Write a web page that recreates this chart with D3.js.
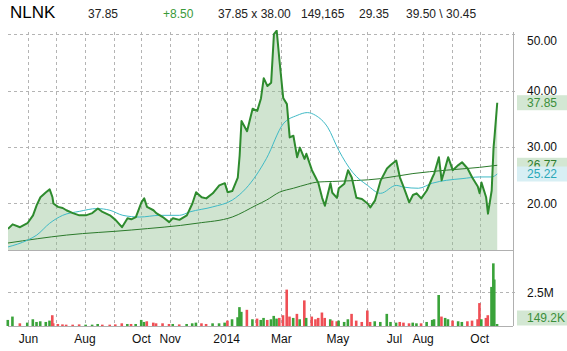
<!DOCTYPE html>
<html lang="en">
<head>
    <meta charset="UTF-8">
    <title>NLNK</title>
    <script src="https://cdn.jsdelivr.net/npm/d3@7/dist/d3.min.js"></script>
    <style>
        body { margin: 0; background: #fff; }
        text { font-family: "Liberation Sans", Arial, sans-serif; }
    </style>
</head>
<body>
<script>
    // price (close)
    var dates = ["2013-05-10","2013-05-15","2013-05-23","2013-05-31","2013-06-06","2013-06-10","2013-06-14","2013-06-20","2013-06-24","2013-06-27",
        "2013-06-28","2013-07-03","2013-07-08","2013-07-12","2013-07-19","2013-07-26","2013-08-02","2013-08-09","2013-08-15","2013-08-20",
        "2013-08-28","2013-09-03","2013-09-10","2013-09-16","2013-09-20","2013-09-25","2013-10-01","2013-10-04","2013-10-07","2013-10-14",
        "2013-10-17","2013-10-24","2013-10-31","2013-11-04","2013-11-11","2013-11-19","2013-11-25","2013-11-29","2013-12-05","2013-12-10",
        "2013-12-17","2013-12-24","2013-12-30","2014-01-02","2014-01-07","2014-01-13","2014-01-15","2014-01-17","2014-01-23","2014-01-29",
        "2014-02-03","2014-02-07","2014-02-10","2014-02-14","2014-02-18","2014-02-21","2014-02-24","2014-02-27","2014-03-03","2014-03-07",
        "2014-03-10","2014-03-14","2014-03-18","2014-03-21","2014-03-26","2014-03-28","2014-04-03","2014-04-07","2014-04-10","2014-04-14",
        "2014-04-17","2014-04-23","2014-04-25","2014-04-30","2014-05-02","2014-05-08","2014-05-12","2014-05-16","2014-05-21","2014-05-27",
        "2014-06-02","2014-06-05","2014-06-10","2014-06-16","2014-06-23","2014-06-27","2014-07-03","2014-07-07","2014-07-11","2014-07-17",
        "2014-07-21","2014-07-25","2014-07-30","2014-08-05","2014-08-11","2014-08-13","2014-08-18","2014-08-21","2014-08-25","2014-08-28",
        "2014-09-02","2014-09-08","2014-09-12","2014-09-18","2014-09-23","2014-09-29","2014-10-01","2014-10-03","2014-10-08","2014-10-10",
        "2014-10-14","2014-10-16","2014-10-17","2014-10-20"];
    var close = [15.5,16.3,15.8,16.5,17.9,19.7,21.1,22.0,22.5,21.1,
        20.0,19.4,19.2,18.8,18.3,17.9,17.9,18.3,19.1,18.5,
        17.9,17.1,15.8,17.4,17.2,17.6,20.2,20.9,19.4,18.8,
        18.3,17.6,16.7,17.4,17.1,17.9,20.0,22.0,21.1,20.9,
        21.8,23.2,23.6,22.0,22.2,24.6,28.5,34.6,32.8,36.8,
        36.4,38.6,42.2,40.8,41.4,50.0,50.6,45.3,38.7,37.6,
        31.7,32.0,28.2,29.9,27.9,28.8,25.9,24.6,23.6,21.0,
        19.6,23.6,21.9,21.0,22.7,23.5,25.9,24.6,21.0,20.8,
        20.0,19.3,20.5,24.0,26.2,26.8,27.6,24.6,22.9,20.2,
        21.5,21.8,20.9,22.3,24.6,25.3,28.2,24.1,26.4,28.2,
        25.9,26.8,27.3,26.2,24.6,23.0,21.8,23.7,21.1,18.2,
        22.3,29.9,31.7,37.85];
    // volume in millions, same dates
    var volume = [0.45,0.7,0.2,0.25,0.5,0.3,0.35,0.3,0.4,0.8,
        0.2,0.15,0.12,0.1,0.1,0.12,0.1,0.1,0.15,0.1,
        0.1,0.12,0.2,0.15,0.15,0.15,0.45,0.3,0.35,0.25,
        0.2,0.2,0.15,0.15,0.12,0.15,0.2,0.25,0.2,0.15,
        0.2,0.2,0.25,0.4,0.5,0.65,1.4,1.05,1.2,0.5,
        0.55,0.45,0.6,0.45,0.5,0.75,0.55,0.6,0.8,2.7,
        0.7,0.6,0.9,0.5,1.9,0.6,0.7,0.5,0.6,1.0,
        0.6,0.5,0.4,0.35,0.4,0.3,0.5,0.9,0.4,0.3,
        1.15,0.3,0.35,0.3,0.9,0.3,0.25,0.3,0.25,0.2,
        0.25,0.2,0.2,0.3,0.45,0.5,2.3,0.7,0.6,0.5,
        0.4,0.35,0.3,0.35,0.4,0.5,1.7,0.5,0.6,0.8,
        2.9,4.65,3.45,0.149];

    // moving averages
    var ma50Dates = ["2013-05-10","2013-05-31","2013-06-10","2013-06-24","2013-07-08","2013-07-26","2013-08-14","2013-08-28","2013-09-11","2013-09-29",
        "2013-10-21","2013-11-11","2013-11-22","2013-12-17","2014-01-07","2014-01-22","2014-02-13","2014-03-03","2014-03-18","2014-03-29",
        "2014-04-07","2014-04-20","2014-05-02","2014-05-17","2014-06-02","2014-06-16","2014-07-03","2014-07-11","2014-07-27","2014-08-11",
        "2014-08-26","2014-09-12","2014-10-01","2014-10-14","2014-10-20"];
    var ma50 = [12.3,13.5,14.4,16.5,17.9,18.6,19.1,18.8,17.9,17.6,
        17.9,17.9,18.5,19.4,20.6,22.7,28.0,34.1,35.6,36.1,
        35.6,33.5,29.4,25.5,23.2,21.8,23.2,22.9,22.7,23.6,
        24.1,24.4,24.7,24.7,25.22];
    var ma200Dates = ["2013-05-10","2013-07-12","2013-09-20","2013-11-30","2014-01-07","2014-02-02","2014-02-13","2014-02-27","2014-03-14","2014-03-29",
        "2014-04-09","2014-04-25","2014-06-16","2014-07-21","2014-08-26","2014-10-01","2014-10-20"];
    var ma200 = [13.0,14.4,15.3,16.5,17.6,19.7,20.6,22.0,22.7,23.4,
        23.8,23.9,24.4,25.3,25.9,26.4,26.77];

    var priceTicks = [20, 30, 40, 50];
    var volTicks = [2.5];
    var monthLabels = [["2013-06-01","Jun"],["2013-08-01","Aug"],["2013-10-01","Oct"],["2013-11-01","Nov"],["2014-01-01","2014"],
        ["2014-03-01","Mar"],["2014-05-01","May"],["2014-07-01","Jul"],["2014-08-01","Aug"],["2014-10-01","Oct"]];
    var header = [["NLNK", 10, "#000", 17], ["37.85", 88, "#222", 12], ["+8.50", 163, "#3a9a3a", 12], ["37.85 x 38.00", 218, "#222", 12],
        ["149,165", 301, "#222", 12], ["29.35", 359, "#222", 12], ["39.50 \\ 30.45", 406, "#222", 12]];

    var parse = d3.timeParse("%Y-%m-%d");
    var width = 567, height = 351;
    var left = 8, right = 513;
    var mainTop = 32, mainBottom = 250, volTop = 251, volBottom = 326;

    var svg = d3.select("body").append("svg")
        .attr("width", width).attr("height", height);

    var x = d3.scaleTime()
        .domain([new Date(2013, 4, 10), new Date(2014, 10, 6)])
        .range([left, right]);
    var y = d3.scaleLinear().domain([11.76, 50.2]).range([mainBottom, mainTop + 1]);
    var yv = d3.scaleLinear().domain([0, 5.64]).range([volBottom, mainBottom]);

    var pts = dates.map(function (d, i) { return {date: parse(d), v: close[i], vol: volume[i], up: i == 0 || close[i] >= close[i - 1]}; });

    // gridlines
    var months = d3.timeMonth.range(new Date(2013, 5, 1), new Date(2014, 10, 1));
    var grid = svg.append("g").attr("stroke", "#b4b4b4").attr("stroke-dasharray", "3,3").attr("stroke-width", 1);
    grid.selectAll(".vg").data(months).enter().append("line")
        .attr("x1", function (d) { return Math.round(x(d)) + 0.5; })
        .attr("x2", function (d) { return Math.round(x(d)) + 0.5; })
        .attr("y1", mainTop).attr("y2", volBottom);
    grid.selectAll(".hg").data(priceTicks).enter().append("line")
        .attr("x1", left).attr("x2", right + 5)
        .attr("y1", function (d) { return Math.round(y(d)) + 0.5; })
        .attr("y2", function (d) { return Math.round(y(d)) + 0.5; });
    grid.selectAll(".vh").data(volTicks).enter().append("line")
        .attr("x1", left).attr("x2", right + 5)
        .attr("y1", function (d) { return Math.round(yv(d)) + 0.5; })
        .attr("y2", function (d) { return Math.round(yv(d)) + 0.5; });

    // price area + line
    svg.append("clipPath").attr("id", "clipMain").append("rect")
        .attr("x", left).attr("y", mainTop - 2).attr("width", right - left).attr("height", mainBottom - mainTop + 2);
    var main = svg.append("g").attr("clip-path", "url(#clipMain)");

    main.append("path").datum(pts)
        .attr("fill", "#8fbf8f").attr("fill-opacity", 0.42)
        .attr("d", d3.area().x(function (d) { return x(d.date); }).y0(mainBottom).y1(function (d) { return y(d.v); }));

    var ma200Pts = ma200Dates.map(function (d, i) { return [parse(d), ma200[i]]; });
    var ma50Pts = ma50Dates.map(function (d, i) { return [parse(d), ma50[i]]; });
    var maLine = d3.line().curve(d3.curveMonotoneX)
        .x(function (d) { return x(d[0]); }).y(function (d) { return y(d[1]); });
    main.append("path").datum(ma200Pts).attr("fill", "none").attr("stroke", "#2b7a2b").attr("stroke-width", 1).attr("d", maLine);
    main.append("path").datum(ma50Pts).attr("fill", "none").attr("stroke", "#3fbac6").attr("stroke-width", 1).attr("d", maLine);

    main.append("path").datum(pts)
        .attr("fill", "none").attr("stroke", "#2e8b2e").attr("stroke-width", 2).attr("stroke-linejoin", "round")
        .attr("d", d3.line().x(function (d) { return x(d.date); }).y(function (d) { return y(d.v); }));

    // volume bars
    svg.selectAll(".bar").data(pts).enter().append("rect")
        .attr("x", function (d) { return x(d.date) - 1.5; })
        .attr("width", 2.6)
        .attr("y", function (d) { return yv(d.vol); })
        .attr("height", function (d) { return volBottom - yv(d.vol); })
        .attr("fill", function (d) { return d.up ? "#3aa33a" : "#ef4f55"; });

    // frame
    svg.append("line").attr("x1", right + 0.5).attr("x2", right + 0.5).attr("y1", mainTop).attr("y2", volBottom).attr("stroke", "#b0b0b0");
    svg.append("line").attr("x1", left).attr("x2", right).attr("y1", mainBottom + 0.5).attr("y2", mainBottom + 0.5).attr("stroke", "#b0b0b0");
    svg.append("line").attr("x1", left).attr("x2", right).attr("y1", volBottom + 0.5).attr("y2", volBottom + 0.5).attr("stroke", "#b0b0b0");

    // right axis labels
    svg.selectAll(".pt").data(priceTicks).enter().append("text")
        .attr("x", 527).attr("y", function (d) { return Math.max(y(d), mainTop + 9); })
        .attr("dy", "0.35em").attr("font-size", 12).attr("fill", "#111")
        .text(function (d) { return d3.format(".2f")(d); });
    svg.selectAll(".vt").data(volTicks).enter().append("text")
        .attr("x", 527).attr("y", function (d) { return yv(d); })
        .attr("dy", "0.35em").attr("font-size", 12).attr("fill", "#111")
        .text(function (d) { return d + "M"; });

    function tag(yy, txt, fill, col) {
        svg.append("rect").attr("x", 517).attr("y", yy - 7.5).attr("width", 50).attr("height", 15).attr("fill", fill);
        svg.append("text").attr("x", 527).attr("y", yy).attr("dy", "0.35em")
            .attr("font-size", 12).attr("fill", col).text(txt);
    }
    tag(y(close[close.length - 1]), "37.85", "#d3e7d3", "#3a8f3a");
    tag(y(ma200[ma200.length - 1]), "26.77", "#d3e7d3", "#2e7d2e");
    tag(y(ma50[ma50.length - 1]), "25.22", "#d8eff4", "#2aa8b8");
    tag(Math.min(yv(volume[volume.length - 1]), volBottom - 8), "149.2K", "#d3e7d3", "#3a8f3a");

    // month labels
    svg.selectAll(".ml").data(monthLabels).enter().append("text")
        .attr("x", function (d) { return x(parse(d[0])); }).attr("y", 343)
        .attr("text-anchor", "middle").attr("font-size", 12).attr("fill", "#111")
        .text(function (d) { return d[1]; });

    // header
    svg.selectAll(".hd").data(header).enter().append("text")
        .attr("x", function (d) { return d[1]; }).attr("y", 18)
        .attr("font-size", function (d) { return d[3]; }).attr("fill", function (d) { return d[2]; })
        .text(function (d) { return d[0]; });
</script>
</body>
</html>
